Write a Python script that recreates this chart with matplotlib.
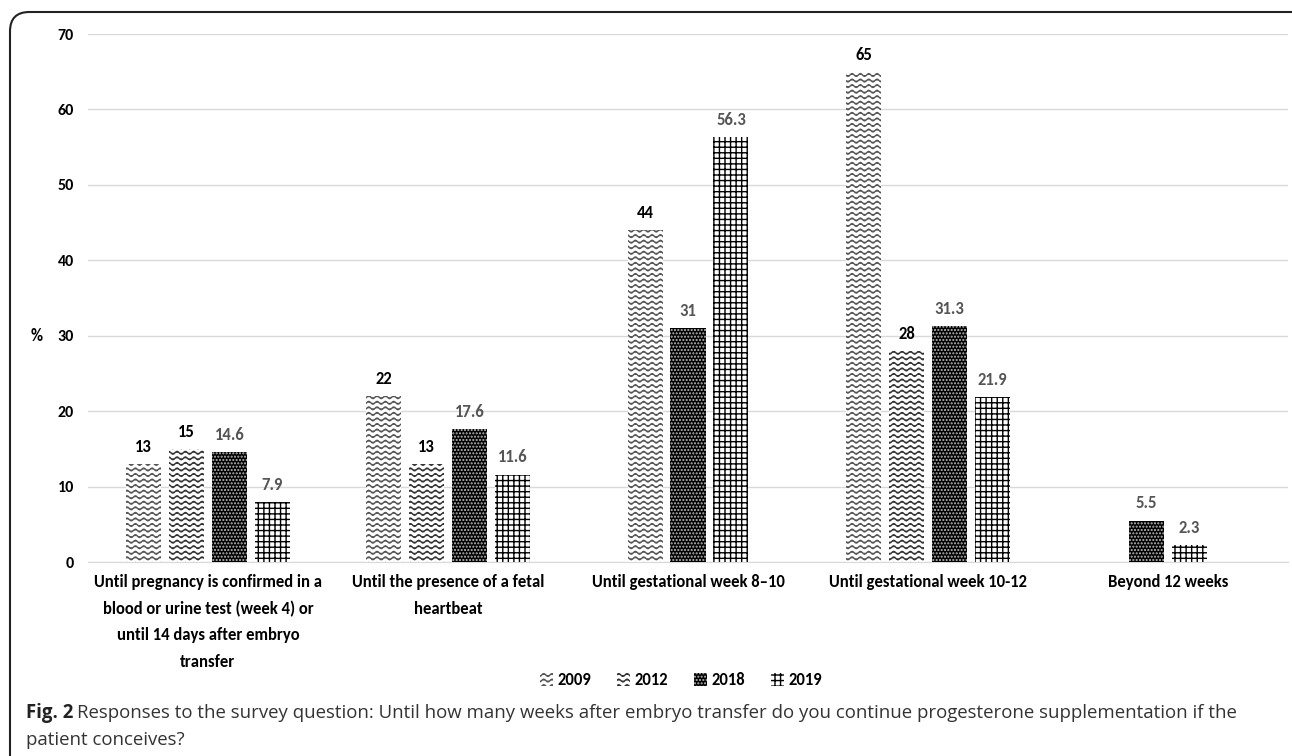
import warnings
import numpy as np
import matplotlib
matplotlib.use('Agg')
import matplotlib.pyplot as plt
import matplotlib.hatch as mhatch
from matplotlib.patches import Patch, FancyBboxPatch
from matplotlib.path import Path

warnings.filterwarnings('ignore')

# datos
categorias = [
    'Until pregnancy is confirmed in a\nblood or urine test (week 4) or\nuntil 14 days after embryo\ntransfer',
    'Until the presence of a fetal\nheartbeat',
    'Until gestational week 8\u201310',
    'Until gestational week 10-12',
    'Beyond 12 weeks',
]
anios = ['2009', '2012', '2018', '2019']
v2009 = [13, 22, 44, 65, np.nan]
v2012 = [15, 13, np.nan, 28, np.nan]
v2018 = [14.6, 17.6, 31, 31.3, 5.5]
v2019 = [7.9, 11.6, 56.3, 21.9, 2.3]
yticks = [0, 10, 20, 30, 40, 50, 60, 70]


# patron ondulado propio (matplotlib no trae uno)
class WaveHatch(mhatch.HatchPatternBase):
    def __init__(self, hatch, density):
        self.num_rows = hatch.count('~') * density
        self.npts = 97
        self.num_lines = self.num_rows
        self.num_vertices = self.num_rows * self.npts

    def set_vertices_and_codes(self, vertices, codes):
        xs = np.linspace(0, 1, self.npts)
        for i in range(self.num_rows):
            y = (i + 0.5) / self.num_rows
            seg = slice(i * self.npts, (i + 1) * self.npts)
            vertices[seg, 0] = xs
            vertices[seg, 1] = y + 0.014 * np.sin(2 * np.pi * 12 * xs)
            codes[seg] = Path.LINETO
            codes[i * self.npts] = Path.MOVETO


mhatch._hatch_types.append(WaveHatch)

estilos = {
    '2009': dict(facecolor='white', edgecolor='#555555', hatch='~~~'),
    '2012': dict(facecolor='white', edgecolor='#333333', hatch='~~~'),
    '2018': dict(facecolor='black', edgecolor='#bbbbbb', hatch='.....'),
    '2019': dict(facecolor='white', edgecolor='black', hatch='+++'),
}
color_txt = {'2009': 'black', '2012': 'black', '2018': '#555555', '2019': '#555555'}

plt.rcParams['font.family'] = ['Carlito', 'DejaVu Sans']
plt.rcParams['hatch.linewidth'] = 1.0

fig = plt.figure(figsize=(12.92, 7.56), dpi=100)
ax = fig.add_axes([88 / 1292, 1 - 562 / 756, 1200 / 1292, (562 - 34) / 756])

series = {'2009': v2009, '2012': v2012, '2018': v2018, '2019': v2019}
ancho = 0.146
paso = 0.179
for i in range(len(categorias)):
    presentes = [a for a in anios if not np.isnan(series[a][i])]
    n = len(presentes)
    for j, a in enumerate(presentes):
        x = i + (j - (n - 1) / 2) * paso
        val = series[a][i]
        ax.bar(x, val, width=ancho, linewidth=0, zorder=3, **estilos[a])
        ax.text(x, val + 1.2, f'{val:g}', ha='center', va='bottom',
                fontsize=12, fontweight='bold', color=color_txt[a])

ax.set_xlim(-0.5, 4.5)
ax.set_ylim(0, 70)
ax.set_yticks(yticks)
ax.set_yticklabels([str(t) for t in yticks], fontweight='bold', fontsize=11.5)
ax.set_xticks(range(len(categorias)))
ax.set_xticklabels(categorias, fontweight='bold', fontsize=12, linespacing=1.78)
ax.tick_params(length=0)
ax.tick_params(axis='x', pad=9)
ax.tick_params(axis='y', pad=10)
ax.grid(axis='y', color='#d9d9d9', linewidth=1, zorder=0)
for s in ['top', 'right', 'left']:
    ax.spines[s].set_visible(False)
ax.spines['bottom'].set_color('#d9d9d9')
ax.set_ylabel('%', rotation=0, fontweight='bold', fontsize=12, va='center', ha='center')
ax.yaxis.set_label_coords(-51 / 1200, (562 - 336) / 528)

handles = [Patch(label=a, linewidth=0, **estilos[a]) for a in anios]
fig.legend(handles=handles, loc='center', bbox_to_anchor=(681 / 1292, 1 - 680 / 756), ncol=4,
           frameon=False, prop={'weight': 'bold', 'size': 12}, handlelength=0.8,
           handleheight=0.8, handletextpad=0.3, columnspacing=1.5)

# marco redondeado
marco = FancyBboxPatch((10 / 1292, -0.05), 1.1, 0.05 + 1 - 12 / 756,
                       boxstyle='round,pad=0,rounding_size=0.015', mutation_aspect=1292 / 756,
                       transform=fig.transFigure, facecolor='none', edgecolor='#222222',
                       linewidth=1.5, clip_on=False)
fig.patches.append(marco)

# pie de figura
fuente = ['Open Sans', 'DejaVu Sans']
t1 = fig.text(26 / 1292, 1 - 713 / 756, 'Fig. 2', fontsize=13.4, fontweight='bold',
              family=fuente, va='center', color='#222222')
fig.canvas.draw()
bb = t1.get_window_extent()
fig.text((bb.x1 + 4) / 1292, 1 - 713 / 756,
         'Responses to the survey question: Until how many weeks after embryo transfer do you continue progesterone supplementation if the',
         fontsize=13.4, family=fuente, va='center', color='#333333')
fig.text(26 / 1292, 1 - 740 / 756, 'patient conceives?', fontsize=13.4, family=fuente,
         va='center', color='#333333')

plt.savefig('out.png', dpi=100)
